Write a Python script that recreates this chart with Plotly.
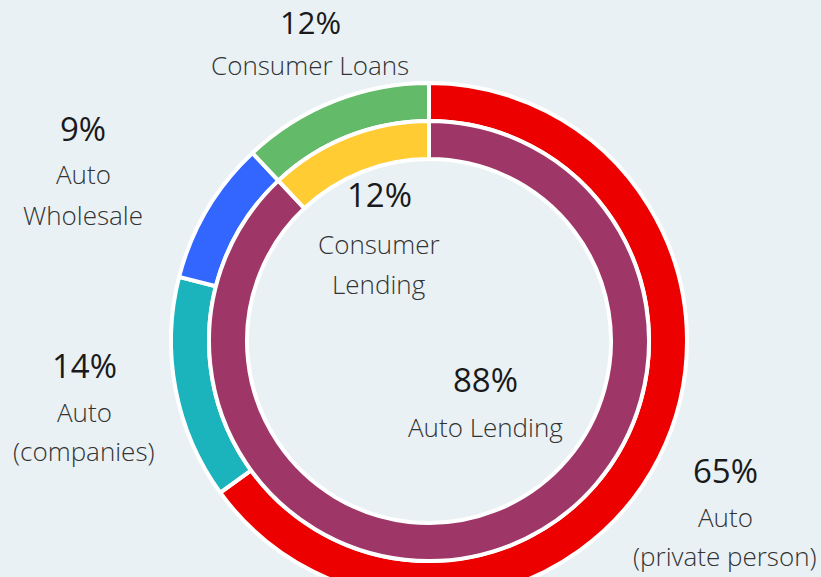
import plotly.graph_objects as go

# ---- data ----
outer_labels = ["Auto (private person)", "Auto (companies)", "Auto Wholesale", "Consumer Loans"]
outer_values = [65, 14, 9, 12]
outer_colors = ["#EC0000", "#1BB3BC", "#3366FF", "#63BA68"]

inner_labels = ["Auto Lending", "Consumer Lending"]
inner_values = [88, 12]
inner_colors = ["#9E3667", "#FFCC33"]

# label text blocks
outer_text = {
    "Auto (private person)": ["Auto", "(private person)"],
    "Auto (companies)": ["Auto", "(companies)"],
    "Auto Wholesale": ["Auto", "Wholesale"],
    "Consumer Loans": ["Consumer Loans"],
}
inner_text = {
    "Auto Lending": ["Auto Lending"],
    "Consumer Lending": ["Consumer", "Lending"],
}

# ---- layout geometry (pixels) ----
W, H = 821, 682
CX, CY = 429, 341
R_OUT, R_OUT_HOLE = 258, 220
R_IN, R_IN_HOLE = 220, 182
BG = "#E9F1F5"


def dom(r):
    return dict(x=[(CX - r) / W, (CX + r) / W],
                y=[(H - CY - r) / H, (H - CY + r) / H])


fig = go.Figure()
fig.add_trace(go.Pie(
    labels=outer_labels, values=outer_values, sort=False, direction="clockwise",
    rotation=0, hole=R_OUT_HOLE / R_OUT, domain=dom(R_OUT),
    marker=dict(colors=outer_colors, line=dict(color="white", width=4)),
    textinfo="none", hoverinfo="label+percent", showlegend=False,
))
fig.add_trace(go.Pie(
    labels=inner_labels, values=inner_values, sort=False, direction="clockwise",
    rotation=0, hole=R_IN_HOLE / R_IN, domain=dom(R_IN),
    marker=dict(colors=inner_colors, line=dict(color="white", width=4)),
    textinfo="none", hoverinfo="label+percent", showlegend=False,
))

# label anchor positions (pixel centers): percent line, then following lines
label_pos = {
    "Consumer Loans": (310, [22, 65]),
    "Auto Wholesale": (83, [128, 174, 215]),
    "Auto (companies)": (84, [365, 412, 451]),
    "Auto (private person)": (725, [470, 517, 556]),
    "Consumer Lending": (379, [195, 244, 284]),
    "Auto Lending": (485, [380, 427]),
}

all_vals = dict(zip(outer_labels, outer_values))
all_vals.update(dict(zip(inner_labels, inner_values)))
all_text = dict(outer_text)
all_text.update(inner_text)

PCT_FONT = dict(family="Open Sans", size=33, color="#1a1a1a")
TOP_PCT_FONT = dict(family="Open Sans", size=31, color="#1a1a1a")
LBL_FONT = dict(family="Open Sans", size=26, color="#333333", weight=300)

for name, (px, ys) in label_pos.items():
    lines = [f"{all_vals[name]}%"] + all_text[name]
    for i, (txt, py) in enumerate(zip(lines, ys)):
        if i == 0:
            font = TOP_PCT_FONT if name == "Consumer Loans" else PCT_FONT
        else:
            font = LBL_FONT
        fig.add_annotation(
            x=px / W, y=1 - py / H, xref="paper", yref="paper",
            text=txt, showarrow=False, xanchor="center", yanchor="middle",
            font=font,
        )

fig.update_layout(
    width=W, height=H, margin=dict(l=0, r=0, t=0, b=0),
    paper_bgcolor=BG, plot_bgcolor=BG, showlegend=False,
)

fig.write_html(
    "out.html",
    config={"displayModeBar": False},
    post_script="document.body.style.margin='0';document.body.style.overflow='hidden';"
                "document.documentElement.style.overflow='hidden';",
)
